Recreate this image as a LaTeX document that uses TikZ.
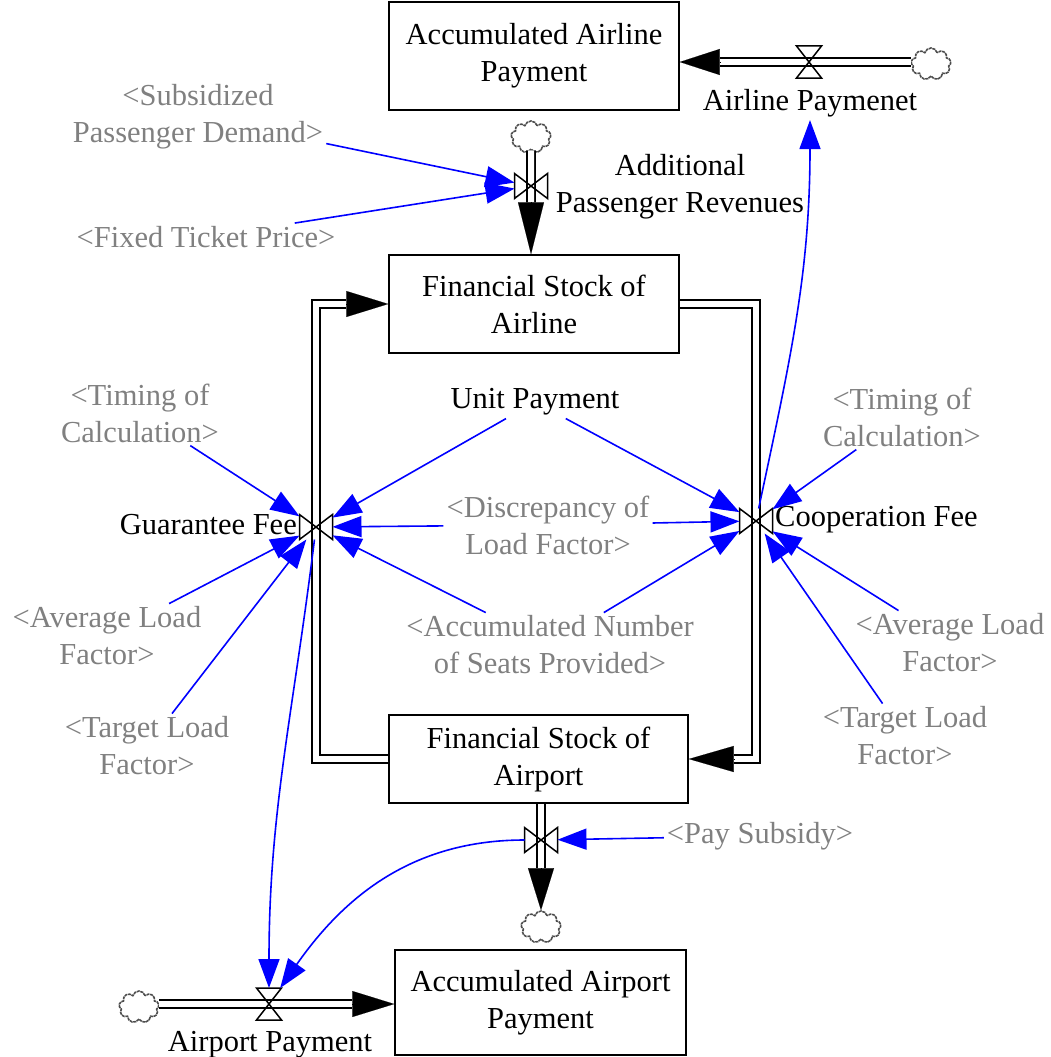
\documentclass[tikz,border=0pt]{standalone}
\usepackage{fontspec}
\setmainfont{Liberation Serif}
\usetikzlibrary{arrows.meta,calc,shapes.symbols}

% filled flow arrowhead: #2 = tip, #3 = a point back along the pipe
\newcommand\pipehead[3][42pt]{%
  \draw[line width=0.1pt,-{Triangle[length=#1,width=26pt]}] ($(#2)!#1!(#3)$) -- (#2);}

\tikzset{
  every node/.append style={font=\fontsize{30.5}{37}\selectfont},
  stockbox/.style={draw, line width=1.5pt, align=center, inner sep=0pt},
  varlabel/.style={text=black!50, align=center, inner sep=3pt},
  flowlabel/.style={text=black, align=center, inner sep=3pt},
  flowpipe/.style={draw=black, line width=1.8pt, double=white, double distance=6pt},
  valvebox/.style={inner sep=0pt, outer sep=0pt, minimum width=33pt, minimum height=25pt},
  valveboxh/.style={inner sep=0pt, outer sep=0pt, minimum width=25pt, minimum height=32pt},
  valveline/.style={draw=black, line width=1.5pt, line join=miter},
  infolink/.style={draw=blue, line width=1.6pt, -{Triangle[length=29pt,width=21pt]}},
  cloudnode/.style={cloud, cloud puffs=9, cloud ignores aspect, draw=black!70,
    line width=1.6pt, dash pattern=on 3pt off 0.7pt, minimum width=40pt,
    minimum height=32pt, inner sep=0pt}
}

\begin{document}
\begin{tikzpicture}[x=1pt,y=1pt]
\useasboundingbox (0,0) rectangle (1051,-1057);

% stocks
\node[stockbox, minimum width=290pt, minimum height=108pt] (aap) at (534,-56) {Accumulated Airline\\Payment};
\node[stockbox, minimum width=290pt, minimum height=98pt] (fsl) at (534,-304) {Financial Stock of\\Airline};
\node[stockbox, minimum width=299pt, minimum height=88pt] (fsa) at (538.5,-759) {Financial Stock of\\Airport};
\node[stockbox, minimum width=291pt, minimum height=105pt] (acp) at (540.5,-1002.5) {Accumulated Airport\\Payment};

% valves
\node[valveboxh] (v1) at (809,-62) {};
\node[valvebox] (v2) at (531,-186) {};
\node[valvebox] (v3) at (316,-527) {};
\node[valvebox] (v4) at (756,-521) {};
\node[valvebox] (v5) at (541,-840) {};
\node[valveboxh] (v6) at (269,-1004) {};

% sources and sinks
\node[cloudnode] (c1) at (931,-64) {};
\node[cloudnode] (c2) at (531,-137) {};
\node[cloudnode] (c3) at (541,-927) {};
\node[cloudnode] (c4) at (139,-1007) {};

% flow pipes
\coordinate (t1) at (aap.east |- v1);
\draw[flowpipe] (c1.west |- v1) -- ($(t1)!40pt!(v1)$);
\pipehead[40pt]{t1}{v1}

\coordinate (t2) at (fsl.north -| v2);
\draw[flowpipe] (c2.south) -- ($(t2)!52pt!(v2)$);
\pipehead[52pt]{t2}{v2}

\coordinate (g1) at (fsa.west -| v3);
\coordinate (g2) at (fsl.west -| v3);
\draw[flowpipe] (fsa.west) -- (g1) -- (g2) -- ($(fsl.west)!42pt!(g2)$);
\pipehead{fsl.west}{g2}

\coordinate (k1) at (fsl.east -| v4);
\coordinate (k2) at (fsa.east -| v4);
\draw[flowpipe] (fsl.east) -- (k1) -- (k2) -- ($(fsa.east)!45pt!(k2)$);
\pipehead[45pt]{fsa.east}{k2}

\coordinate (b1) at (fsa.south -| v5);
\draw[flowpipe] (b1) -- ($(c3.north)!42pt!(b1)$);
\pipehead{c3.north}{b1}

\coordinate (a1) at (acp.west |- v6);
\draw[flowpipe] (c4.east |- v6) -- ($(a1)!42pt!(v6)$);
\pipehead{a1}{v6}

% valve symbols
\foreach \v in {v1,v6}
  \draw[valveline] (\v.north west) -- (\v.north east) -- (\v.south west) -- (\v.south east) -- cycle;
\foreach \v in {v2,v3,v4,v5}
  \draw[valveline] (\v.north west) -- (\v.south west) -- (\v.north east) -- (\v.south east) -- cycle;

% flow names
\node[flowlabel] (v1lbl) at (810,-103) {Airline Paymenet};
\node[flowlabel] (v2lbl) at (680,-187) {Additional\\Passenger Revenues};
\node[flowlabel, anchor=east, inner sep=0pt] (v3lbl) at (297,-525) {Guarantee Fee};
\node[flowlabel, anchor=west, inner sep=0pt] (v4lbl) at (775,-520) {Cooperation Fee};
\node[flowlabel] (v6lbl) at (270,-1045) {Airport Payment};

% auxiliaries and shadow variables
\node[varlabel] (subsid) at (198,-117) {<Subsidized\\Passenger Demand>};
\node[varlabel] (fixed) at (206,-237) {<Fixed Ticket Price>};
\node[varlabel] (timL) at (140,-413) {<Timing of\\Calculation>};
\node[flowlabel] (unit) at (535,-402) {Unit Payment};
\node[varlabel] (disc) at (548,-525) {<Discrepancy of\\Load Factor>};
\node[varlabel] (seats) at (550,-645) {<Accumulated Number\\of Seats Provided>};
\node[varlabel] (avgL) at (107,-636) {<Average Load\\Factor>};
\node[varlabel] (tgtL) at (147,-746) {<Target Load\\Factor>};
\node[varlabel] (timR) at (902,-417) {<Timing of\\Calculation>};
\node[varlabel] (avgR) at (950,-643) {<Average Load\\Factor>};
\node[varlabel] (tgtR) at (905,-736) {<Target Load\\Factor>};
\node[varlabel] (paysub) at (760,-836) {<Pay Subsidy>};

% information links
\draw[infolink] (subsid) -- (v2);
\draw[infolink] (fixed) -- (v2);
\draw[infolink] (timL) -- (v3);
\draw[infolink] (unit) -- (v3);
\draw[infolink] (disc) -- (v3);
\draw[infolink] (seats) -- (v3);
\draw[infolink] (avgL) -- (v3);
\draw[infolink] (tgtL) -- (v3);
\draw[infolink] (unit) -- (v4);
\draw[infolink] (disc) -- (v4);
\draw[infolink] (seats) -- (v4);
\draw[infolink] (timR) -- (v4);
\draw[infolink] (avgR) -- (v4);
\draw[infolink] (tgtR) -- (v4);
\draw[infolink] (paysub) -- (v5);
\draw[infolink] (v4) to[out=78,in=-90] (v1lbl);
\draw[infolink] (v3) to[out=-97,in=90] (v6);
\draw[infolink] (v5) to[out=180,in=55] (v6);
\end{tikzpicture}
\end{document}
